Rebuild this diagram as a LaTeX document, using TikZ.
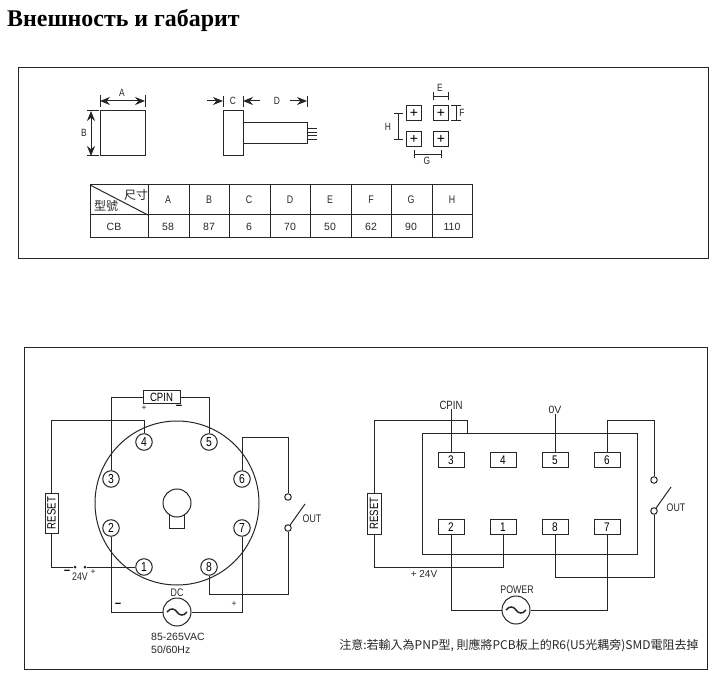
\documentclass[tikz,border=0pt]{standalone}
\usepackage{fontspec}
\setmainfont{Liberation Serif}
\newfontfamily\labelfont[FakeStretch=0.8]{Liberation Sans}
\newfontfamily\widefont{Liberation Sans}
\newfontfamily\cjkfont{Noto Sans CJK TC}
\usetikzlibrary{arrows.meta}

\tikzset{
    line/.style={draw=black!85, line width=1pt},
    dimtxt/.style={font=\labelfont\fontsize{10.5}{11}\selectfont, inner sep=0pt, text=black!85},
    signtxt/.style={font=\widefont\fontsize{8.5}{9}\selectfont, inner sep=0pt, text=black!85},
    minus/.style={font=\widefont\bfseries\fontsize{11}{11}\selectfont, inner sep=0pt, text=black},
    txt/.style={font=\labelfont\fontsize{11}{12}\selectfont, inner sep=0pt, text=black!85},
    widetxt/.style={font=\widefont\fontsize{10.5}{12}\selectfont, inner sep=0pt, text=black!85},
    cjktxt/.style={font=\cjkfont\fontsize{12}{13}\selectfont, inner sep=0pt, text=black!85},
    pin/.style={line, circle, fill=white, inner sep=0pt, minimum size=16.5pt, font=\labelfont\fontsize{13}{13}\selectfont},
    pad/.style={line, fill=white, inner sep=0pt, minimum width=26pt, minimum height=15pt, font=\labelfont\fontsize{12.5}{13}\selectfont},
    term/.style={line, circle, fill=white, inner sep=0pt, minimum size=6.5pt},
    dot/.style={circle, fill=black!85, inner sep=0pt, minimum size=3pt},
    ac/.style={line, circle, fill=white, inner sep=0pt, minimum size=28pt},
    hole/.style={line, inner sep=0pt, minimum size=15pt, font=\widefont\fontsize{14}{14}\selectfont},
    dim/.style={line, {Stealth[length=10pt,width=8pt]}-{Stealth[length=10pt,width=8pt]}},
    dimone/.style={line, -{Stealth[length=10pt,width=8pt]}},
    dimthin/.style={line, line width=0.8pt},
}
\newcommand{\wave}[1]{\draw[line, line width=1.5pt] ([xshift=-10pt]#1.center)
    .. controls ([shift={(-6,-5)}]#1.center) and ([shift={(-2,-3)}]#1.center) .. (#1.center)
    .. controls ([shift={(2,3)}]#1.center) and ([shift={(6,5)}]#1.center) .. ([xshift=10pt]#1.center);}

\begin{document}
\begin{tikzpicture}[x=1pt, y=-1pt]
    \useasboundingbox (0,0) rectangle (720,692);

    % Titulo
    \node[anchor=west, inner sep=0pt, font=\bfseries\fontsize{23.9}{26}\selectfont] (title) at (7,20) {Внешность и габарит};

    % Marcos
    \draw[line] (18,67.5) rectangle (708,258.5);
    \draw[line] (24,347.5) rectangle (707,669.5);

    % Vista frontal
    \draw[line] (100,111) rectangle (145,156);
    \draw[line] (100,95) -- (100,107);
    \draw[line] (145,95) -- (145,107);
    \draw[dim] (100,101) -- (145,101);
    \node[dimtxt] (labA) at (122,93) {A};
    \draw[line] (87,111) -- (99,111);
    \draw[line] (87,156) -- (99,156);
    \draw[dim] (91,111) -- (91,156);
    \node[dimtxt] (labB) at (84,133) {B};

    % Vista lateral
    \draw[line] (223,111) rectangle (243,156);
    \draw[line] (243,123) rectangle (307,144);
    \foreach \y in {128,132,135,139}
        \draw[line, line width=0.7pt] (307,\y) -- (317,\y);
    \foreach \x in {223,243,307}
        \draw[line] (\x,96) -- (\x,107);
    \draw[dimone] (207,101) -- (223,101);
    \draw[dimone] (260,101) -- (243,101);
    \draw[dimone] (290,101) -- (307,101);
    \node[dimtxt] (labC) at (233,101) {C};
    \node[dimtxt] (labD) at (277,101) {D};

    % Agujeros
    \foreach \name/\x/\y in {ha/414/113, hb/441/113, hc/414/139, hd/441/139}
        \node[hole] (\name) at (\x,\y) {+};
    \draw[dimthin] (433,92) -- (433,100);
    \draw[dimthin] (448,92) -- (448,100);
    \draw[dimthin] (433,96) -- (448,96);
    \node[dimtxt] (labE) at (440,88) {E};
    \draw[dimthin] (451,105) -- (461,105);
    \draw[dimthin] (451,120) -- (461,120);
    \draw[dimthin] (456,105) -- (456,120);
    \node[dimtxt] (labF) at (462,113) {F};
    \draw[dimthin] (394,113) -- (403,113);
    \draw[dimthin] (394,139) -- (403,139);
    \draw[dimthin] (398,113) -- (398,139);
    \node[dimtxt] (labH) at (388,127) {H};
    \draw[dimthin] (414,150) -- (414,158);
    \draw[dimthin] (441,150) -- (441,158);
    \draw[dimthin] (414,154) -- (441,154);
    \node[dimtxt] (labG) at (427,161) {G};

    % Tabla
    \draw[line] (90,185) rectangle (472,238);
    \draw[line] (90,215) -- (472,215);
    \draw[line] (90,185) -- (148,215);
    \foreach \x in {148,189,229,270,310,351,391,432}
        \draw[line] (\x,185) -- (\x,238);
    \node[cjktxt] (size) at (136,195) {尺寸};
    \node[cjktxt] (model) at (106,206) {型號};
    \node[widetxt] (cb) at (114,227) {CB};
    \foreach \x/\h/\v in {168/A/58, 209/B/87, 249/C/6, 290/D/70, 330/E/50, 371/F/62, 411/G/90, 452/H/110} {
        \node[txt] (col\h) at (\x,200) {\h};
        \node[widetxt] (val\h) at (\x,227) {\v};
    }

    % Zocalo redondo
    \node[line, circle, inner sep=0pt, minimum size=164pt] (socket) at (177,503) {};
    \draw[line] (169,512) rectangle (184,528);
    \node[line, circle, fill=white, inner sep=0pt, minimum size=28pt] (hub) at (177,503) {};
    \foreach \n/\x/\y in {1/144/567, 2/111/528, 3/111/479, 4/144/442, 5/209/442, 6/242/479, 7/242/528, 8/209/567}
        \node[pin] (p\n) at (\x,\y) {\n};

    \node[line, fill=white, inner sep=0pt, minimum width=37pt, minimum height=13pt, font=\labelfont\fontsize{12}{12}\selectfont] (cpin) at (161.5,397) {CPIN};
    \node[line, fill=white, inner sep=0pt, minimum width=13pt, minimum height=40pt] (reset) at (51.5,513) {\rotatebox{90}{\labelfont\fontsize{12}{12}\selectfont RESET}};
    \node[dot] (dotl) at (75,567) {};
    \node[dot] (dotr) at (85,567) {};
    \node[term] (swa) at (288,497) {};
    \node[term] (swb) at (288,528) {};
    \coordinate (swtip) at (305,504);
    \node[ac] (acl) at (177,612) {};
    \coordinate (resetl) at (51.5,420);

    \draw[line] (p3.north) |- (cpin.west);
    \draw[line] (cpin.east) -| (p5.north);
    \draw[line] (p4.north) |- (resetl) -- (reset.north);
    \draw[line] (reset.south) |- (dotl);
    \draw[line] (dotr) -- (p1.west);
    \draw[line] (p6.north) |- (288,437) -- (swa.north);
    \draw[line] (swb.south) |- (209,594) -- (p8.south);
    \draw[line] (swb) -- (swtip);
    \draw[line] (p2.south) |- (acl.west);
    \draw[line] (p7.south) |- (acl.east);
    \wave{acl}

    \node[signtxt] (plusa) at (144,408) {+};
    \node[minus] (minusa) at (179,407) {−};
    \node[minus] (minusb) at (67,572) {−};
    \node[txt] (v24) at (80,577) {24V};
    \node[signtxt] (plusb) at (93,572) {+};
    \node[minus] (minusc) at (118,605) {−};
    \node[signtxt] (plusc) at (234,604) {+};
    \node[txt] (outa) at (312,519) {OUT};
    \node[txt] (dc) at (177,593) {DC};
    \node[widetxt, anchor=west] (vac) at (151,637) {85-265VAC};
    \node[widetxt, anchor=west] (hz) at (151,650) {50/60Hz};

    % Zocalo rectangular
    \node[line, inner sep=0pt, minimum width=215pt, minimum height=121pt] (base) at (529.5,493.5) {};
    \foreach \n/\x/\y in {3/451/460, 4/503/460, 5/555/460, 6/607/460, 2/451/527, 1/503/527, 8/555/527, 7/607/527}
        \node[pad] (q\n) at (\x,\y) {\n};
    \node[line, fill=white, inner sep=0pt, minimum width=14pt, minimum height=41pt] (resetb) at (374,513.5) {\rotatebox{90}{\labelfont\fontsize{12}{12}\selectfont RESET}};
    \node[txt, font=\labelfont\fontsize{12}{12}\selectfont] (cpinb) at (451,405) {CPIN};
    \node[widetxt] (ovb) at (555,410) {0V};
    \node[term] (swc) at (654,480) {};
    \node[term] (swd) at (654,511) {};
    \coordinate (swtipb) at (671,487);
    \coordinate (tap) at (467,433);
    \node[ac] (acr) at (516,610) {};

    \draw[line] (cpinb.south) -- (q3.north);
    \draw[line] (ovb.south) -- (q5.north);
    \draw[line] (tap) |- (374,420) -- (resetb.north);
    \draw[line] (resetb.south) |- (503,567) -- (q1.south);
    \draw[line] (q6.north) |- (654,420) -- (swc.north);
    \draw[line] (swd.south) |- (555,577) -- (q8.south);
    \draw[line] (swd) -- (swtipb);
    \draw[line] (q2.south) |- (acr.west);
    \draw[line] (q7.south) |- (acr.east);
    \wave{acr}

    \node[widetxt, font=\widefont\fontsize{10}{12}\selectfont] (v24b) at (424,574) {+ 24V};
    \node[txt] (outb) at (676,508) {OUT};
    \node[txt] (power) at (517,590) {POWER};
    \node[cjktxt] (note) at (519,646) {注意:若輸入為PNP型, 則應將PCB板上的R6(U5光耦旁)SMD電阻去掉};
\end{tikzpicture}
\end{document}
